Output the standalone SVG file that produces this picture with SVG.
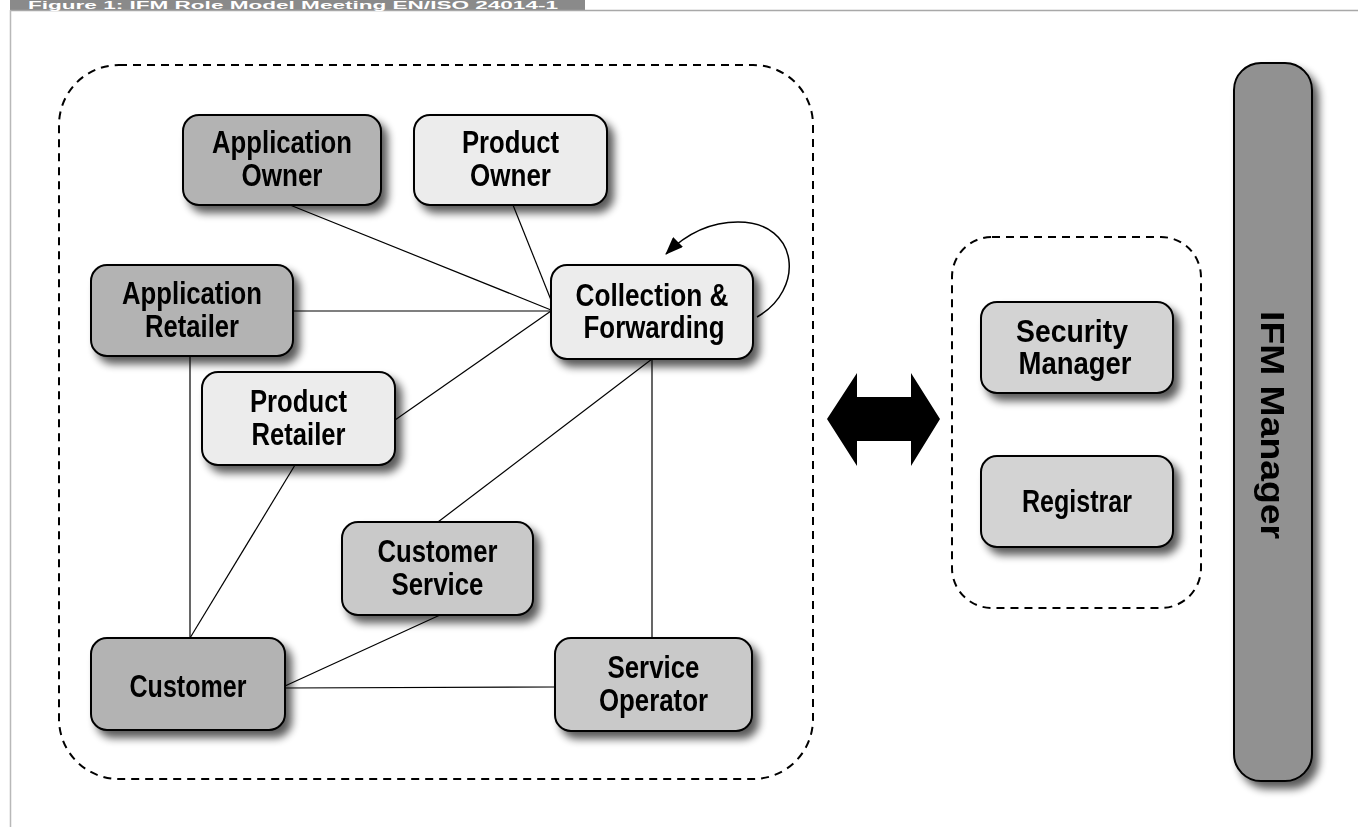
<svg xmlns="http://www.w3.org/2000/svg" width="1358" height="827" viewBox="0 0 1358 827">
<defs>
<style>
.node rect{stroke:#000;stroke-width:2;}
.dark{fill:#b3b3b3;}
.light{fill:#ececec;}
.mid{fill:#c9c9c9;}
.mid2{fill:#d3d3d3;}
.lbl{font-family:"Liberation Sans",Arial,sans-serif;font-weight:bold;font-size:31px;fill:#000;text-anchor:middle;}
.dash{fill:none;stroke:#000;stroke-width:2;stroke-dasharray:8 6;}
.conn line,.conn path{stroke:#000;stroke-width:1.2;fill:none;}
</style>
<filter id="sh" x="-20%" y="-20%" width="150%" height="160%">
<feGaussianBlur in="SourceAlpha" stdDeviation="4"/>
<feOffset dx="6" dy="7" result="b"/>
<feComponentTransfer><feFuncA type="linear" slope="0.65"/></feComponentTransfer>
<feMerge><feMergeNode/><feMergeNode in="SourceGraphic"/></feMerge>
</filter>
<marker id="arr" markerWidth="18" markerHeight="14" refX="17" refY="7" orient="auto" markerUnits="userSpaceOnUse">
<path d="M0,0 L18,7 L0,14 z" fill="#000"/>
</marker>
</defs>
<rect x="0" y="0" width="1358" height="827" fill="#fff"/>
<g id="header">
<rect x="10" y="0" width="575" height="10" fill="#8a8a8a"/>
<line x1="10" y1="10.5" x2="1358" y2="10.5" stroke="#a8a8a8" stroke-width="1.5"/>
<line x1="10.5" y1="10" x2="10.5" y2="827" stroke="#b8b8b8" stroke-width="1.5"/>
<text x="28" y="9" font-family="Liberation Sans,Arial,sans-serif" font-weight="bold" font-size="10" fill="#fff" textLength="530" lengthAdjust="spacingAndGlyphs">Figure 1: IFM Role Model Meeting EN/ISO 24014-1</text>
</g>
<g id="groups">
<rect class="dash" x="59" y="65" width="754" height="714" rx="60"/>
<rect class="dash" x="952" y="237" width="249" height="371" rx="40"/>
</g>
<g id="connectors" class="conn">
<line x1="290" y1="205" x2="551" y2="310"/>
<line x1="513" y1="205" x2="551" y2="300"/>
<line x1="293" y1="311" x2="551" y2="311"/>
<line x1="395" y1="420" x2="551" y2="311"/>
<line x1="190" y1="356" x2="190" y2="638"/>
<line x1="295" y1="465" x2="190" y2="638"/>
<line x1="652" y1="359" x2="438" y2="522"/>
<line x1="652" y1="359" x2="652" y2="638"/>
<line x1="440" y1="615" x2="285" y2="686"/>
<line x1="285" y1="688" x2="555" y2="687"/>
<path d="M757,317 C805,290 800,222 738,222 C706,222 682,238 666,254" marker-end="url(#arr)" style="stroke-width:1.5"/>
<polygon points="827,419 857,373 857,397 911,397 911,373 940,419 911,466 911,441 857,441 857,466" fill="#000" stroke="none"/>
</g>
<g id="app-owner" class="node" filter="url(#sh)">
<rect class="dark" x="183" y="115" width="198" height="90" rx="16"/>
<text class="lbl" x="282" y="153" textLength="140" lengthAdjust="spacingAndGlyphs">Application</text>
<text class="lbl" x="282" y="186" textLength="81" lengthAdjust="spacingAndGlyphs">Owner</text>
</g>
<g id="product-owner" class="node" filter="url(#sh)">
<rect class="light" x="414" y="115" width="193" height="90" rx="16"/>
<text class="lbl" x="510.5" y="153" textLength="97" lengthAdjust="spacingAndGlyphs">Product</text>
<text class="lbl" x="510.5" y="186" textLength="81" lengthAdjust="spacingAndGlyphs">Owner</text>
</g>
<g id="app-retailer" class="node" filter="url(#sh)">
<rect class="dark" x="91" y="265" width="202" height="91" rx="16"/>
<text class="lbl" x="192" y="304" textLength="140" lengthAdjust="spacingAndGlyphs">Application</text>
<text class="lbl" x="192" y="337" textLength="94" lengthAdjust="spacingAndGlyphs">Retailer</text>
</g>
<g id="collection-forwarding" class="node" filter="url(#sh)">
<rect class="light" x="551" y="265" width="202" height="94" rx="16"/>
<text class="lbl" x="652" y="306" textLength="153" lengthAdjust="spacingAndGlyphs">Collection &amp;</text>
<text class="lbl" x="654" y="338" textLength="141" lengthAdjust="spacingAndGlyphs">Forwarding</text>
</g>
<g id="product-retailer" class="node" filter="url(#sh)">
<rect class="light" x="202" y="372" width="193" height="93" rx="16"/>
<text class="lbl" x="298.5" y="412" textLength="97" lengthAdjust="spacingAndGlyphs">Product</text>
<text class="lbl" x="298.5" y="445" textLength="94" lengthAdjust="spacingAndGlyphs">Retailer</text>
</g>
<g id="customer-service" class="node" filter="url(#sh)">
<rect class="mid" x="342" y="522" width="191" height="93" rx="16"/>
<text class="lbl" x="437.5" y="562" textLength="120" lengthAdjust="spacingAndGlyphs">Customer</text>
<text class="lbl" x="437.5" y="595" textLength="92" lengthAdjust="spacingAndGlyphs">Service</text>
</g>
<g id="customer" class="node" filter="url(#sh)">
<rect class="dark" x="91" y="638" width="194" height="92" rx="16"/>
<text class="lbl" x="188" y="697" textLength="117" lengthAdjust="spacingAndGlyphs">Customer</text>
</g>
<g id="service-operator" class="node" filter="url(#sh)">
<rect class="mid" x="555" y="638" width="197" height="93" rx="16"/>
<text class="lbl" x="653.5" y="678" textLength="92" lengthAdjust="spacingAndGlyphs">Service</text>
<text class="lbl" x="653.5" y="711" textLength="109" lengthAdjust="spacingAndGlyphs">Operator</text>
</g>
<g id="security-manager" class="node" filter="url(#sh)">
<rect class="mid2" x="981" y="302" width="192" height="91" rx="16"/>
<text class="lbl" x="1072" y="342" textLength="112" lengthAdjust="spacingAndGlyphs">Security</text>
<text class="lbl" x="1075" y="374" textLength="113" lengthAdjust="spacingAndGlyphs">Manager</text>
</g>
<g id="registrar" class="node" filter="url(#sh)">
<rect class="mid2" x="981" y="456" width="192" height="91" rx="16"/>
<text class="lbl" x="1077" y="512" textLength="110" lengthAdjust="spacingAndGlyphs">Registrar</text>
</g>
<g id="ifm-manager" class="node" filter="url(#sh)">
<rect x="1234" y="63" width="78" height="718" rx="27" fill="#919191"/>
<text class="lbl" transform="translate(1273,425) rotate(90)" x="0" y="12" style="font-size:34px" textLength="228" lengthAdjust="spacingAndGlyphs">IFM Manager</text>
</g>
</svg>
